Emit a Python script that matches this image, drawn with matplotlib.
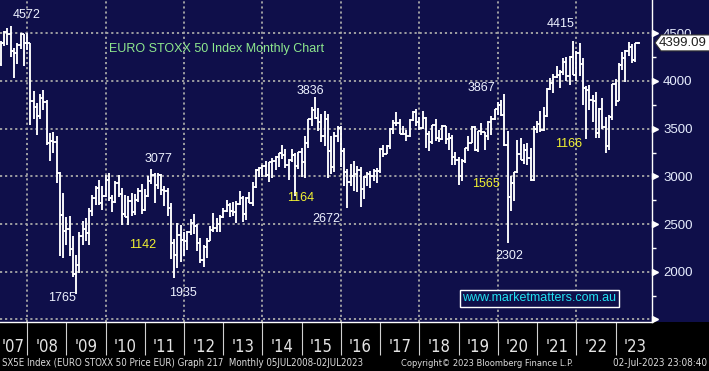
import matplotlib.pyplot as plt
import matplotlib.transforms as mtransforms
from matplotlib import font_manager
from matplotlib.patches import Polygon, Rectangle
import numpy as np
import pandas as pd

# Monthly bars for the SX5E, Apr 2007 - Jul 2023
months = pd.period_range('2007-04', '2023-07', freq='M')
first_open = 4181

highs = [
    4415, 4528, 4556, 4572, 4345, 4400, 4500, 4490, 4500,                    # 2007
    4400, 3900, 3770, 3860, 3905, 3800, 3450, 3470, 3420, 3050, 2830, 2570,  # 2008
    2580, 2370, 2180, 2420, 2530, 2560, 2665, 2800, 2900, 2960, 2900, 3010,  # 2009
    3030, 2800, 2950, 3010, 2880, 2800, 2790, 2830, 2820, 2880, 2920, 2870,  # 2010
    3000, 3077, 3040, 3040, 3020, 2900, 2880, 2720, 2340, 2510, 2490, 2420,  # 2011
    2430, 2550, 2610, 2500, 2350, 2280, 2350, 2480, 2620, 2560, 2590, 2670,  # 2012
    2750, 2720, 2730, 2740, 2850, 2790, 2780, 2840, 2940, 3080, 3095, 3120,  # 2013
    3160, 3150, 3190, 3210, 3250, 3325, 3290, 3180, 3290, 3240, 3260, 3300,  # 2014
    3420, 3600, 3730, 3836, 3720, 3650, 3680, 3650, 3420, 3460, 3530, 3530,  # 2015
    3300, 3080, 3130, 3160, 3110, 3100, 3000, 3050, 3060, 3080, 3090, 3300,  # 2016
    3330, 3330, 3510, 3590, 3670, 3600, 3530, 3490, 3600, 3680, 3710, 3620,  # 2017
    3690, 3620, 3480, 3540, 3600, 3490, 3540, 3530, 3450, 3430, 3260, 3200,  # 2018
    3180, 3300, 3420, 3525, 3530, 3480, 3560, 3470, 3580, 3630, 3710, 3780,  # 2019
    3800, 3867, 3480, 3000, 3050, 3380, 3400, 3340, 3350, 3300, 3530, 3580,  # 2020
    3680, 3730, 3930, 4030, 4070, 4160, 4120, 4240, 4250, 4260, 4415, 4310,  # 2021
    4400, 4240, 3950, 3960, 3850, 3880, 3720, 3820, 3620, 3640, 3970, 4020,  # 2022
    4190, 4300, 4320, 4410, 4390, 4400, 4410,                                # 2023
]
lows = [
    4160, 4370, 4380, 4250, 4030, 4180, 4340, 4160, 4320,
    3540, 3600, 3430, 3600, 3700, 3330, 3160, 3250, 2930, 2160, 2140, 2280,
    2160, 1940, 1765, 1990, 2280, 2320, 2280, 2580, 2700, 2700, 2650, 2780,
    2740, 2630, 2720, 2780, 2490, 2570, 2490, 2580, 2600, 2730, 2610, 2640,
    2780, 2920, 2720, 2870, 2800, 2690, 2580, 2130, 1935, 2040, 2100, 2160,
    2230, 2390, 2400, 2220, 2090, 2050, 2140, 2320, 2420, 2420, 2420, 2560,
    2630, 2570, 2580, 2510, 2700, 2520, 2540, 2720, 2690, 2880, 2990, 2990,
    2990, 2940, 2980, 3070, 3100, 3180, 3090, 2960, 3150, 2790, 3080, 2990,
    2980, 3300, 3530, 3600, 3480, 3360, 3320, 2980, 3020, 3050, 3360, 3100,
    2900, 2672, 2900, 2850, 2840, 2680, 2760, 2900, 2880, 2950, 2930, 3030,
    3200, 3230, 3290, 3440, 3530, 3440, 3430, 3370, 3410, 3580, 3530, 3490,
    3500, 3300, 3270, 3340, 3370, 3360, 3380, 3340, 3280, 3120, 3120, 2910,
    2950, 3140, 3270, 3350, 3270, 3260, 3430, 3280, 3380, 3430, 3590, 3640,
    3630, 3320, 2302, 2640, 2740, 3040, 3170, 3130, 3120, 2950, 2950, 3450,
    3470, 3480, 3620, 3910, 3870, 4030, 3930, 4060, 4000, 3960, 4060, 4000,
    4050, 3750, 3390, 3700, 3570, 3400, 3400, 3500, 3250, 3280, 3590, 3740,
    3790, 4110, 3990, 4260, 4190, 4200, 4390,
]
closes = [
    4393, 4512, 4489, 4315, 4294, 4381, 4490, 4399, 4400,
    3792, 3724, 3628, 3826, 3777, 3352, 3367, 3365, 3038, 2591, 2430, 2451,
    2236, 1976, 2071, 2375, 2444, 2402, 2639, 2775, 2873, 2723, 2798, 2965,
    2776, 2729, 2931, 2817, 2610, 2574, 2742, 2623, 2748, 2844, 2650, 2793,
    2954, 3013, 2910, 3011, 2861, 2849, 2670, 2302, 2180, 2385, 2330, 2317,
    2416, 2512, 2477, 2306, 2118, 2264, 2325, 2440, 2454, 2503, 2575, 2636,
    2703, 2633, 2624, 2712, 2770, 2603, 2768, 2721, 2893, 3068, 3086, 3109,
    3013, 3149, 3162, 3198, 3244, 3228, 3116, 3172, 3226, 3113, 3251, 3146,
    3352, 3599, 3697, 3615, 3570, 3424, 3601, 3270, 3101, 3418, 3506, 3268,
    3045, 2946, 3005, 3028, 3063, 2865, 2990, 3023, 3002, 3055, 3052, 3291,
    3231, 3319, 3501, 3560, 3555, 3442, 3449, 3421, 3595, 3674, 3570, 3504,
    3610, 3439, 3362, 3536, 3407, 3396, 3525, 3393, 3399, 3198, 3173, 3001,
    3159, 3298, 3352, 3515, 3280, 3474, 3467, 3427, 3569, 3604, 3703, 3745,
    3641, 3329, 2787, 2928, 3050, 3234, 3174, 3273, 3194, 2958, 3493, 3553,
    3481, 3636, 3919, 3975, 4040, 4064, 4089, 4196, 4048, 4251, 4063, 4298,
    4175, 3924, 3903, 3803, 3789, 3455, 3708, 3517, 3318, 3618, 3965, 3794,
    4163, 4238, 4315, 4359, 4218, 4399, 4399.09,
]
opens = [first_open] + closes[:-1]

year_labels = ["'07", "'08", "'09", "'10", "'11", "'12", "'13", "'14", "'15",
               "'16", "'17", "'18", "'19", "'20", "'21", "'22", "'23"]
price_ticks = [1500, 2000, 2500, 3000, 3500, 4000, 4500]

# highs / lows written on the chart
note_text = ['4572', '1765', '3077', '1935', '3836', '2672', '3867', '2302', '4415']
note_pos = [(2008.0, 4692), (2008.89, 1724), (2011.34, 3182), (2011.97, 1777),
            (2015.22, 3895), (2015.63, 2553), (2019.57, 3927), (2020.29, 2165),
            (2021.6, 4598)]
gap_text = ['1142', '1164', '1565', '1166']
gap_pos = [(2010.95, 2280), (2014.97, 2773), (2019.70, 2920), (2021.81, 3339)]

footer = ['SX5E Index (EURO STOXX 50 Price EUR) Graph 217  Monthly 05JUL2008-02JUL2023',
          'Copyright\u00a9 2023 Bloomberg Finance L.P.',
          '02-Jul-2023 23:08:40']

# narrow font for the Bloomberg footer / year labels if one is installed
fonts = {(f.name, f.stretch) for f in font_manager.fontManager.ttflist}
names = {n for n, s in fonts}
if 'Liberation Sans Narrow' in names:
    narrow = dict(family='Liberation Sans Narrow')
elif any(n == 'DejaVu Sans' and s != 'normal' for n, s in fonts):
    narrow = dict(family='DejaVu Sans', stretch='condensed')
else:
    narrow = dict(family='Liberation Sans')

navy = '#0f0f4a'
W, H = 709, 371
plot_bottom = 322

fig = plt.figure(figsize=(W / 100, H / 100), dpi=100, facecolor=navy)
fig.add_artist(Rectangle((0, 0), 1, (H - plot_bottom) / H, transform=fig.transFigure,
                         facecolor='black', edgecolor='none', zorder=0))
ax = fig.add_axes([0, 1 - plot_bottom / H, 652 / W, plot_bottom / H], facecolor=navy)

t = np.array([p.year + p.month / 12 for p in months])
tick = 0.045
ax.vlines(t, lows, highs, color='white', lw=1.35, zorder=3)
ax.hlines(opens, t - tick, t, color='white', lw=1.35, zorder=3)
ax.hlines(closes, t, t + tick, color='white', lw=1.35, zorder=3)

ax.set_xlim(2007.309, 2023.93)
ax.set_ylim(1473, 4849)

ax.set_xticks(np.arange(2008, 2023, 2))
ax.set_yticks(price_ticks)
ax.set_yticks(np.arange(1750, 4500, 500), minor=True)
ax.set_yticklabels([''] + [str(v) for v in price_ticks[1:]])
ax.grid(True, which='major', color='#a8a8a8', linestyle=(0, (1.2, 1.6)), lw=1.3)
ax.yaxis.tick_right()
ax.tick_params(axis='x', length=0, labelbottom=False)
ax.tick_params(axis='y', which='major', length=0, pad=8, labelcolor='#e8eeff',
               labelsize=9.5)
ax.tick_params(axis='y', which='minor', length=3, width=1, color='white')
for lab in ax.get_yticklabels():
    lab.set_fontfamily('Liberation Sans')
for side in ['left', 'top']:
    ax.spines[side].set_visible(False)
for side in ['right', 'bottom']:
    ax.spines[side].set_color('white')
    ax.spines[side].set_linewidth(1)

# triangle markers on the right axis
right = mtransforms.blended_transform_factory(ax.transAxes, ax.transData)
tri = mtransforms.offset_copy(right, fig=fig, x=3, y=0, units='dots')
ax.plot([1] * len(price_ticks), price_ticks, ls='none', marker='>', ms=4.5,
        color='white', transform=tri, clip_on=False, zorder=5)

# year labels and separators in the bottom band
below = mtransforms.blended_transform_factory(ax.transData, ax.transAxes)
xmin = ax.get_xlim()[0]
for i, lab in enumerate(year_labels):
    yr = 2007 + i
    xc = (xmin + 2008) / 2 if yr == 2007 else yr + 0.5
    ax.text(xc, -(347 - plot_bottom) / plot_bottom, lab, transform=below,
            ha='center', va='center', color='#e4e4e4', fontsize=12,
            clip_on=False, **narrow)
ax.vlines(np.arange(2008, 2024), -(355 - plot_bottom) / plot_bottom, 0,
          transform=below, color='#d0d0d0', lw=0.8, clip_on=False)

# annotations
for s, (x, y) in zip(note_text, note_pos):
    ax.text(x, y, s, color='#eef2ff', fontsize=9, ha='center', va='center',
            family='Liberation Sans', zorder=6)
for s, (x, y) in zip(gap_text, gap_pos):
    ax.text(x, y, s, color='#f2f232', fontsize=9, ha='center', va='center',
            family='Liberation Sans', zorder=6)
ax.text(2010.09, 4335, 'EURO STOXX 50 Index Monthly Chart', color='#8ee88e',
        fontsize=9, ha='left', va='center', family='Liberation Sans')
ax.text(2021.05, 1724, 'www.marketmatters.com.au', color='#22e0f0', fontsize=9,
        ha='center', va='center', family='Liberation Sans',
        bbox=dict(boxstyle='square,pad=0.2', fc=navy, ec='white', lw=1))

# last price tag
yc = ax.transData.transform((0, closes[-1]))[1]
def px(x, y):
    return (x / W, y / H)
tag = Polygon([px(655, yc), px(661, yc + 8), px(712, yc + 8), px(712, yc - 8),
               px(661, yc - 8)], closed=True, transform=fig.transFigure,
              facecolor='white', edgecolor='#303030', lw=0.8, zorder=10)
fig.add_artist(tag)
fig.text(683 / W, yc / H, f'{closes[-1]:.2f}', color='#202020', fontsize=9.5,
         ha='center', va='center', family='Liberation Sans', zorder=11)

# footer, each piece fitted to the width it takes in the reference
foot_y = 1 - 363 / H
spans = [(2, 360), (401, 573), (613, 707)]
renderer = fig.canvas.get_renderer()
for s, (x0, x1) in zip(footer, spans):
    txt = fig.text(x0 / W, foot_y, s, color='#dcdcdc', fontsize=8, ha='left',
                   va='center', **narrow)
    w = txt.get_window_extent(renderer).width
    txt.set_fontsize(min(9, 8 * (x1 - x0) / w))

fig.savefig('out.png', dpi=100, facecolor=fig.get_facecolor())
